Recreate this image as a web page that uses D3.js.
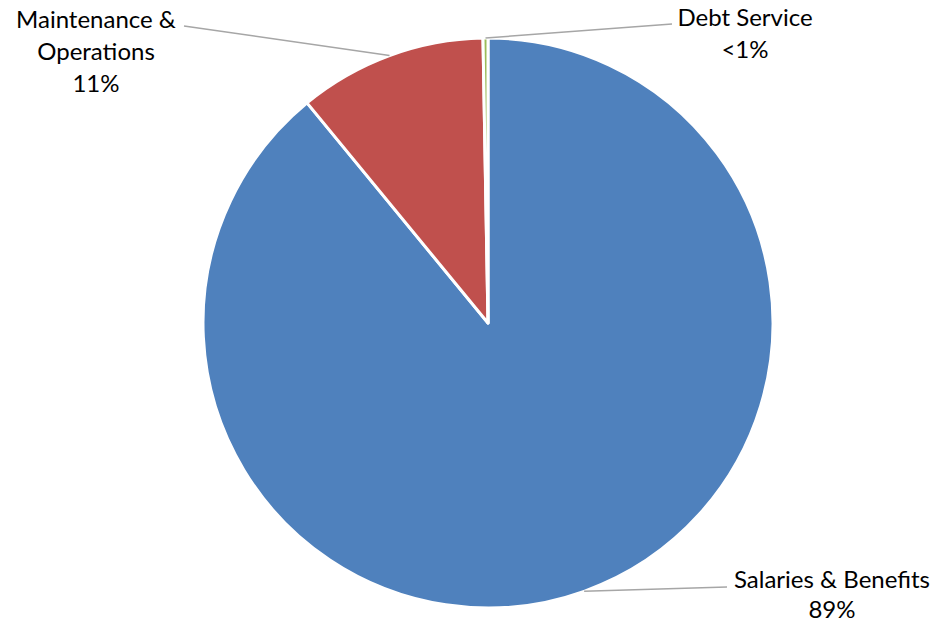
<!DOCTYPE html>
<html>
<head>
<meta charset="utf-8">
<script src="https://d3js.org/d3.v7.min.js"></script>
<style>
body { margin: 0; background: #fff; }
text { font-family: Lato, 'Open Sans', sans-serif; font-size: 24px; fill: #000; }
</style>
</head>
<body>
<svg width="938" height="624"></svg>
<script>
// slices, clockwise from 12 o'clock
var categories = ["Salaries & Benefits", "Maintenance & Operations", "Debt Service"];
var values = [89.05, 10.67, 0.28];
var labelLines = [["Salaries & Benefits", "89%"], ["Maintenance &", "Operations", "11%"], ["Debt Service", "<1%"]];
var colors = ["#4f81bd", "#c0504d", "#9bbb59"];

var svg = d3.select("svg");
var cx = 488, cy = 323, radius = 285;

var pie = d3.pie().sort(null).value(function (d) { return d; });
var arcs = pie(values);
var arc = d3.arc().innerRadius(0).outerRadius(radius);

var g = svg.append("g").attr("transform", "translate(" + cx + "," + cy + ")");

g.selectAll("path.slice").data(arcs).enter().append("path")
	.attr("class", "slice")
	.attr("d", arc)
	.attr("fill", function (d, i) { return colors[i]; })
	.attr("stroke", "#fff")
	.attr("stroke-width", 3)
	.attr("stroke-linejoin", "round");

// label placement (end of leader line, text centre, first baseline, line gap)
var labelPos = [
	{ end: [727, 587], x: 832, y: 588, dy: 30 },
	{ end: [184, 26], x: 96, y: 28, dy: 32 },
	{ end: [672, 24], x: 745, y: 26, dy: 32 }
];

arcs.forEach(function (d, i) {
	var mid = (d.startAngle + d.endAngle) / 2;
	var sx = cx + radius * Math.sin(mid);
	var sy = cy - radius * Math.cos(mid);
	svg.append("line")
		.attr("x1", sx).attr("y1", sy)
		.attr("x2", labelPos[i].end[0]).attr("y2", labelPos[i].end[1])
		.attr("stroke", "#a6a6a6").attr("stroke-width", 1.5);
	var t = svg.append("text").attr("text-anchor", "middle");
	labelLines[i].forEach(function (line, j) {
		t.append("tspan").attr("x", labelPos[i].x).attr("y", labelPos[i].y + j * labelPos[i].dy).text(line);
	});
});
</script>
</body>
</html>
